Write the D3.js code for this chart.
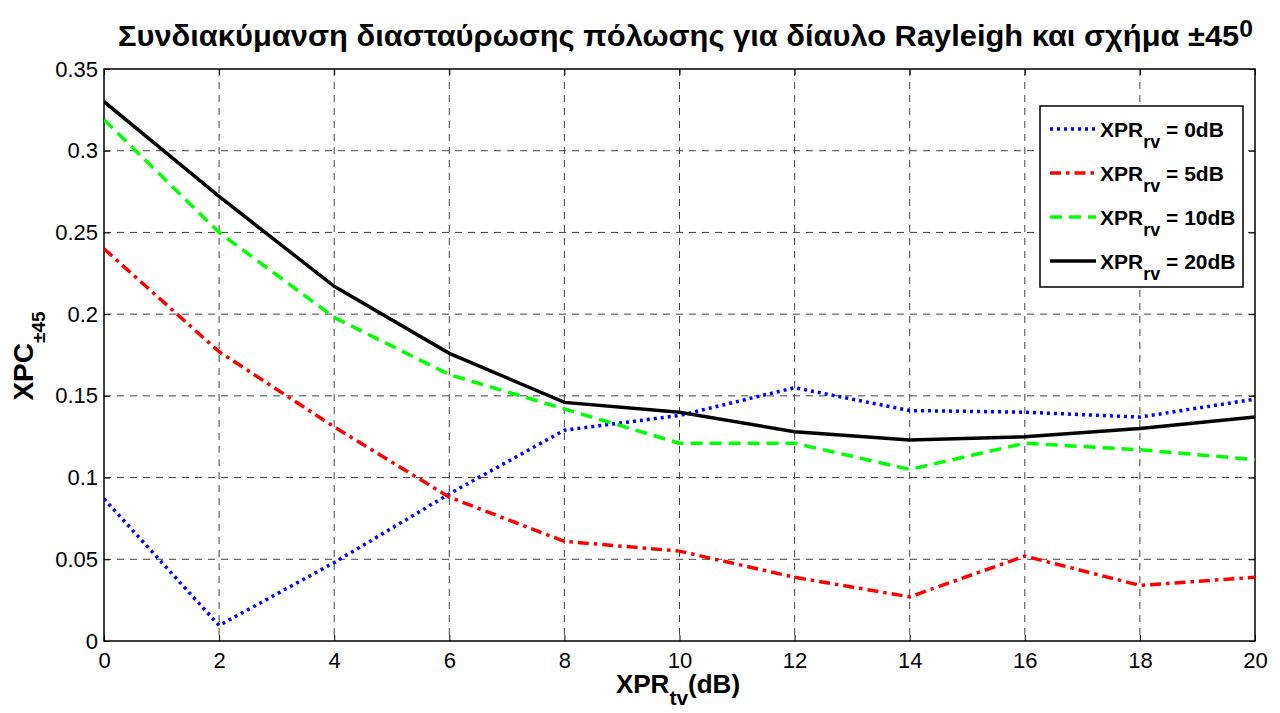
<!DOCTYPE html>
<html>
<head>
<meta charset="utf-8">
<script src="https://cdn.jsdelivr.net/npm/d3@7"></script>
<style>
  body { margin: 0; background: #fff; }
  text { font-family: Arial, "Liberation Sans", sans-serif; }
</style>
</head>
<body>
<div id="chart"></div>
<script>
const xprTv = [0, 2, 4, 6, 8, 10, 12, 14, 16, 18, 20];
const xpc0dB = [0.087, 0.0095, 0.048, 0.090, 0.129, 0.138, 0.155, 0.141, 0.140, 0.137, 0.148];
const xpc5dB = [0.240, 0.177, 0.131, 0.088, 0.061, 0.055, 0.039, 0.027, 0.052, 0.034, 0.039];
const xpc10dB = [0.319, 0.250, 0.198, 0.163, 0.142, 0.121, 0.121, 0.105, 0.121, 0.117, 0.111];
const xpc20dB = [0.330, 0.272, 0.217, 0.176, 0.146, 0.140, 0.128, 0.123, 0.125, 0.130, 0.137];
const xTicks = [0, 2, 4, 6, 8, 10, 12, 14, 16, 18, 20];
const yTicks = [0, 0.05, 0.1, 0.15, 0.2, 0.25, 0.3, 0.35];
const legendLabels = ['0dB', '5dB', '10dB', '20dB'];

const series = [
  { label: legendLabels[0], values: xpc0dB, color: '#0000ff', dash: '3,4' },
  { label: legendLabels[1], values: xpc5dB, color: '#ff0000', dash: '11,5,3.5,5' },
  { label: legendLabels[2], values: xpc10dB, color: '#00ff00', dash: '12,7' },
  { label: legendLabels[3], values: xpc20dB, color: '#000000', dash: null },
];

const width = 1280, height = 713;
const margin = { top: 69, right: 25, bottom: 72, left: 104 };
const iw = width - margin.left - margin.right;
const ih = height - margin.top - margin.bottom;

const x = d3.scaleLinear().domain([0, 20]).range([0, iw]);
const y = d3.scaleLinear().domain([0, 0.35]).range([ih, 0]);

const svg = d3.select('#chart').append('svg').attr('width', width).attr('height', height);
const g = svg.append('g').attr('transform', `translate(${margin.left},${margin.top})`);

// dashed grid
g.append('g').selectAll('line').data(xTicks.slice(1, -1)).join('line')
  .attr('x1', d => x(d)).attr('x2', d => x(d)).attr('y1', 0).attr('y2', ih)
  .attr('stroke', '#444').attr('stroke-width', 1).attr('stroke-dasharray', '7,6');
g.append('g').selectAll('line').data(yTicks.slice(1, -1)).join('line')
  .attr('x1', 0).attr('x2', iw).attr('y1', d => y(d)).attr('y2', d => y(d))
  .attr('stroke', '#444').attr('stroke-width', 1).attr('stroke-dasharray', '7,6');

// axes, ticks pointing inward on all four sides
const fmtY = d => d === 0 ? '0' : String(d);
const styleText = a => a.selectAll('text').attr('font-size', 22).attr('fill', '#000')
  .attr('font-family', 'Arial, Liberation Sans, sans-serif');
g.append('g').attr('transform', `translate(0,${ih})`)
  .call(d3.axisBottom(x).tickValues(xTicks).tickSize(-6).tickPadding(11).tickSizeOuter(0))
  .call(a => a.select('.domain').remove())
  .call(styleText);
g.append('g')
  .call(d3.axisTop(x).tickValues(xTicks).tickSize(-6).tickFormat('').tickSizeOuter(0))
  .call(a => a.select('.domain').remove());
g.append('g')
  .call(d3.axisLeft(y).tickValues(yTicks).tickFormat(fmtY).tickSize(-6).tickPadding(6).tickSizeOuter(0))
  .call(a => a.select('.domain').remove())
  .call(styleText);
g.append('g').attr('transform', `translate(${iw},0)`)
  .call(d3.axisRight(y).tickValues(yTicks).tickFormat('').tickSize(-6).tickSizeOuter(0))
  .call(a => a.select('.domain').remove());
g.selectAll('.tick line').attr('stroke', '#000');

g.append('rect').attr('x', 0).attr('y', 0).attr('width', iw).attr('height', ih)
  .attr('fill', 'none').attr('stroke', '#000').attr('stroke-width', 1.5);

// data lines
const line = d3.line().x((d, i) => x(xprTv[i])).y(d => y(d));
svg.append('defs').append('clipPath').attr('id', 'clip')
  .append('rect').attr('width', iw).attr('height', ih);
const lg = g.append('g').attr('clip-path', 'url(#clip)');
series.forEach(s => {
  lg.append('path').datum(s.values)
    .attr('d', line).attr('fill', 'none')
    .attr('stroke', s.color).attr('stroke-width', 3.5)
    .attr('stroke-dasharray', s.dash);
});

// legend
const legX = 1040 - margin.left, legY = 106 - margin.top, legW = 203, legH = 181;
const leg = g.append('g').attr('transform', `translate(${legX},${legY})`);
leg.append('rect').attr('width', legW).attr('height', legH)
  .attr('fill', '#fff').attr('stroke', '#000').attr('stroke-width', 1.5);
series.forEach((s, i) => {
  const cy = 23 + i * 44;
  leg.append('line').attr('x1', 10).attr('x2', 56).attr('y1', cy).attr('y2', cy)
    .attr('stroke', s.color).attr('stroke-width', 3.5).attr('stroke-dasharray', s.dash);
  const t = leg.append('text').attr('x', 60).attr('y', cy + 8)
    .attr('font-size', 21).attr('font-weight', 'bold').attr('fill', '#000');
  t.append('tspan').text('XPR');
  t.append('tspan').attr('dy', 11).attr('font-size', 18).text('rv');
  t.append('tspan').attr('dy', -11).text(` = ${s.label}`);
});

// title
const title = svg.append('text').attr('x', 118).attr('y', 46)
  .attr('font-size', 30).attr('font-weight', 'bold').attr('fill', '#000')
  .attr('textLength', 1135).attr('lengthAdjust', 'spacingAndGlyphs');
title.append('tspan').text('Συνδιακύμανση διασταύρωσης πόλωσης για δίαυλο Rayleigh και σχήμα ±45');
title.append('tspan').attr('dy', -9).attr('font-size', 24).text('0');

// x label
const xl = svg.append('text').attr('x', 678).attr('y', 693).attr('text-anchor', 'middle')
  .attr('font-size', 26).attr('font-weight', 'bold').attr('fill', '#000');
xl.append('tspan').text('XPR');
xl.append('tspan').attr('dy', 12).attr('font-size', 21).text('tv');
xl.append('tspan').attr('dy', -12).text('(dB)');

// y label
const yl = svg.append('text').attr('transform', 'translate(33,356) rotate(-90)').attr('text-anchor', 'middle')
  .attr('font-size', 28).attr('font-weight', 'bold').attr('fill', '#000');
yl.append('tspan').text('XPC');
yl.append('tspan').attr('dy', 12).attr('font-size', 19).text('±45');
</script>
</body>
</html>
